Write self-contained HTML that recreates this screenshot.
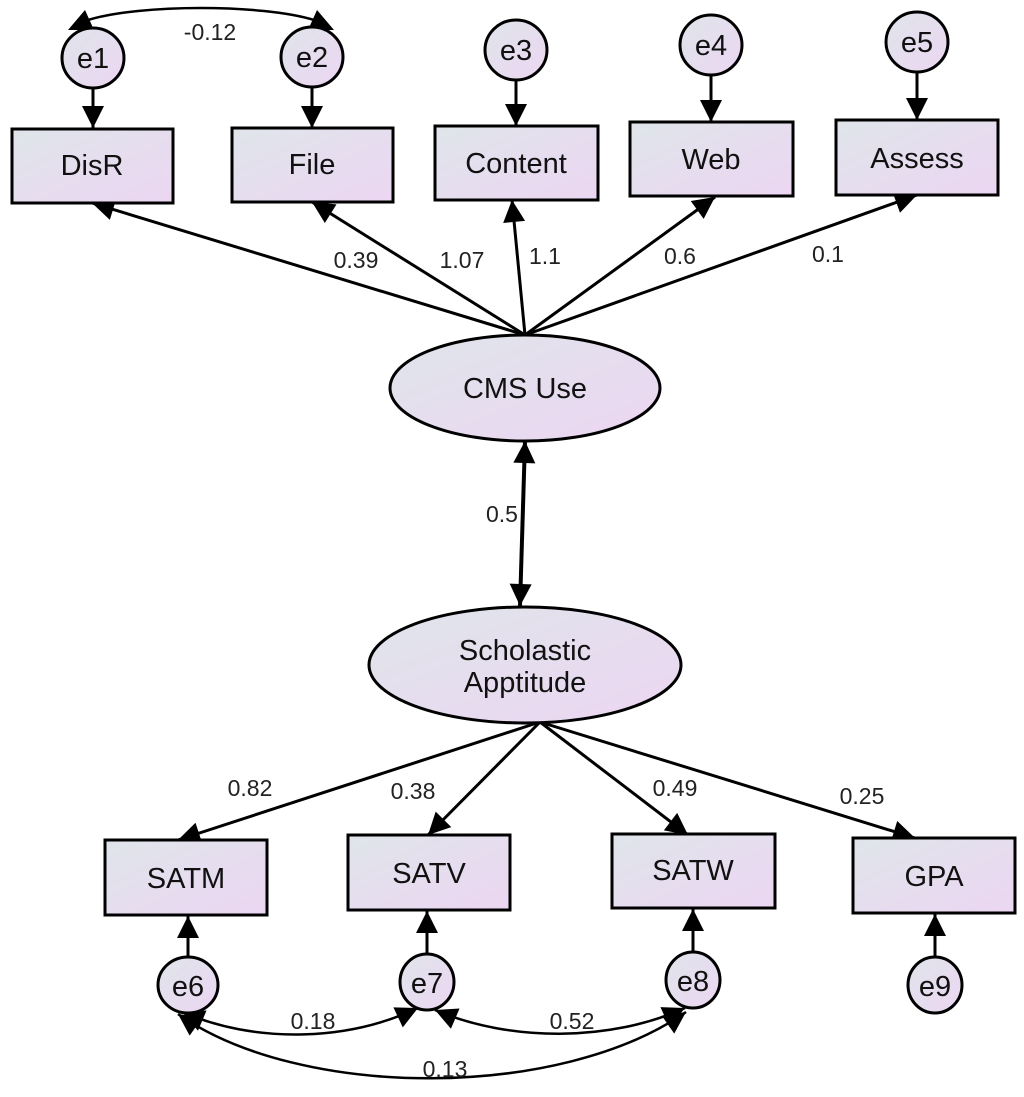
<!DOCTYPE html>
<html><head><meta charset="utf-8"><style>body{margin:0;background:#fff}svg{display:block}</style></head><body>
<svg width="1024" height="1097" viewBox="0 0 1024 1097" xmlns="http://www.w3.org/2000/svg" style="font-family:'Liberation Sans',sans-serif">
<defs>
<linearGradient id="g" x1="0" y1="0" x2="1" y2="1"><stop offset="0" stop-color="#dfe5ea"/><stop offset="1" stop-color="#ecd6f2"/></linearGradient>
<marker id="b" viewBox="0 0 10 10" refX="10" refY="5" markerWidth="24" markerHeight="22" markerUnits="userSpaceOnUse" orient="auto-start-reverse"><path d="M0,0L10,5L0,10z" fill="#000"/></marker>
</defs>
<g stroke="#000" stroke-width="3" fill="none">
<line x1="93" y1="88" x2="93" y2="128" marker-end="url(#b)"/>
<line x1="312" y1="87" x2="312" y2="128" marker-end="url(#b)"/>
<line x1="516" y1="80" x2="516" y2="126" marker-end="url(#b)"/>
<line x1="711" y1="75" x2="711" y2="122" marker-end="url(#b)"/>
<line x1="917" y1="72" x2="917" y2="120" marker-end="url(#b)"/>
<line x1="525" y1="335" x2="92" y2="203" marker-end="url(#b)"/>
<line x1="525" y1="335" x2="312" y2="202" marker-end="url(#b)"/>
<line x1="525" y1="335" x2="512" y2="200" marker-end="url(#b)"/>
<line x1="525" y1="335" x2="715" y2="197" marker-end="url(#b)"/>
<line x1="525" y1="335" x2="917" y2="195" marker-end="url(#b)"/>
<line x1="525" y1="441" x2="520" y2="606" stroke-width="4" marker-start="url(#b)" marker-end="url(#b)"/>
<line x1="540" y1="722" x2="178" y2="840" marker-end="url(#b)"/>
<line x1="540" y1="722" x2="428" y2="835" marker-end="url(#b)"/>
<line x1="540" y1="722" x2="688" y2="835" marker-end="url(#b)"/>
<line x1="540" y1="722" x2="915" y2="838" marker-end="url(#b)"/>
<line x1="188" y1="958" x2="188" y2="916" marker-end="url(#b)"/>
<line x1="427" y1="955" x2="427" y2="911" marker-end="url(#b)"/>
<line x1="693" y1="953" x2="693" y2="909" marker-end="url(#b)"/>
<line x1="935" y1="958" x2="935" y2="914" marker-end="url(#b)"/>
<g stroke-width="2.5">
<path d="M88,20 C140,4 262,4 314,20"/>
<path d="M182,1012 C260,1045 350,1040 418,1008" marker-start="url(#b)" marker-end="url(#b)"/>
<path d="M435,1010 C510,1042 610,1042 685,1008" marker-start="url(#b)" marker-end="url(#b)"/>
<path d="M178,1014 C300,1100 560,1100 686,1012" marker-start="url(#b)" marker-end="url(#b)"/>
</g>
</g>
<polygon points="68,30 94,30 85,10" fill="#000"/>
<polygon points="334,30 308,30 317,10" fill="#000"/>
<g stroke="#000" stroke-width="3" fill="url(#g)">
<rect x="12" y="129" width="161" height="74"/>
<rect x="232" y="128" width="161" height="74"/>
<rect x="435" y="126" width="163" height="74"/>
<rect x="630" y="122" width="163" height="74"/>
<rect x="836" y="120" width="162" height="75"/>
<rect x="105" y="840" width="162" height="75"/>
<rect x="348" y="835" width="162" height="75"/>
<rect x="612" y="834" width="163" height="74"/>
<rect x="853" y="838" width="162" height="75"/>
<ellipse cx="93" cy="58" rx="31" ry="30"/>
<ellipse cx="312" cy="57" rx="31" ry="30"/>
<ellipse cx="516" cy="50" rx="31" ry="30"/>
<ellipse cx="711" cy="45" rx="31" ry="30"/>
<ellipse cx="917" cy="42" rx="31" ry="30"/>
<ellipse cx="525" cy="388" rx="135" ry="53"/>
<ellipse cx="525" cy="665" rx="156" ry="58"/>
<ellipse cx="188" cy="985" rx="30" ry="28"/>
<ellipse cx="427" cy="982" rx="27" ry="28"/>
<ellipse cx="693" cy="980" rx="27" ry="28"/>
<ellipse cx="935" cy="985" rx="27" ry="28"/>
</g>
<g font-size="29" text-anchor="middle" fill="#111">
<text x="93" y="68">e1</text><text x="312" y="67">e2</text><text x="516" y="60">e3</text><text x="711" y="55">e4</text><text x="917" y="52">e5</text>
<text x="92" y="175">DisR</text><text x="312" y="174">File</text><text x="516" y="173">Content</text><text x="711" y="169">Web</text><text x="917" y="168">Assess</text>
<text x="525" y="398">CMS Use</text>
<text x="525" y="660">Scholastic</text><text x="525" y="692">Apptitude</text>
<text x="186" y="888">SATM</text><text x="429" y="883">SATV</text><text x="693" y="880">SATW</text><text x="934" y="886">GPA</text>
<text x="188" y="996">e6</text><text x="427" y="993">e7</text><text x="693" y="991">e8</text><text x="935" y="996">e9</text>
</g>
<g font-size="23" text-anchor="middle" fill="#222">
<text x="210" y="40">-0.12</text>
<text x="356" y="268">0.39</text><text x="462" y="268">1.07</text><text x="545" y="264">1.1</text><text x="680" y="264">0.6</text><text x="828" y="262">0.1</text>
<text x="502" y="522">0.5</text>
<text x="250" y="796">0.82</text><text x="413" y="799">0.38</text><text x="675" y="796">0.49</text><text x="862" y="804">0.25</text>
<text x="313" y="1029">0.18</text><text x="572" y="1029">0.52</text><text x="445" y="1077">0.13</text>
</g>
</svg>
</body></html>
